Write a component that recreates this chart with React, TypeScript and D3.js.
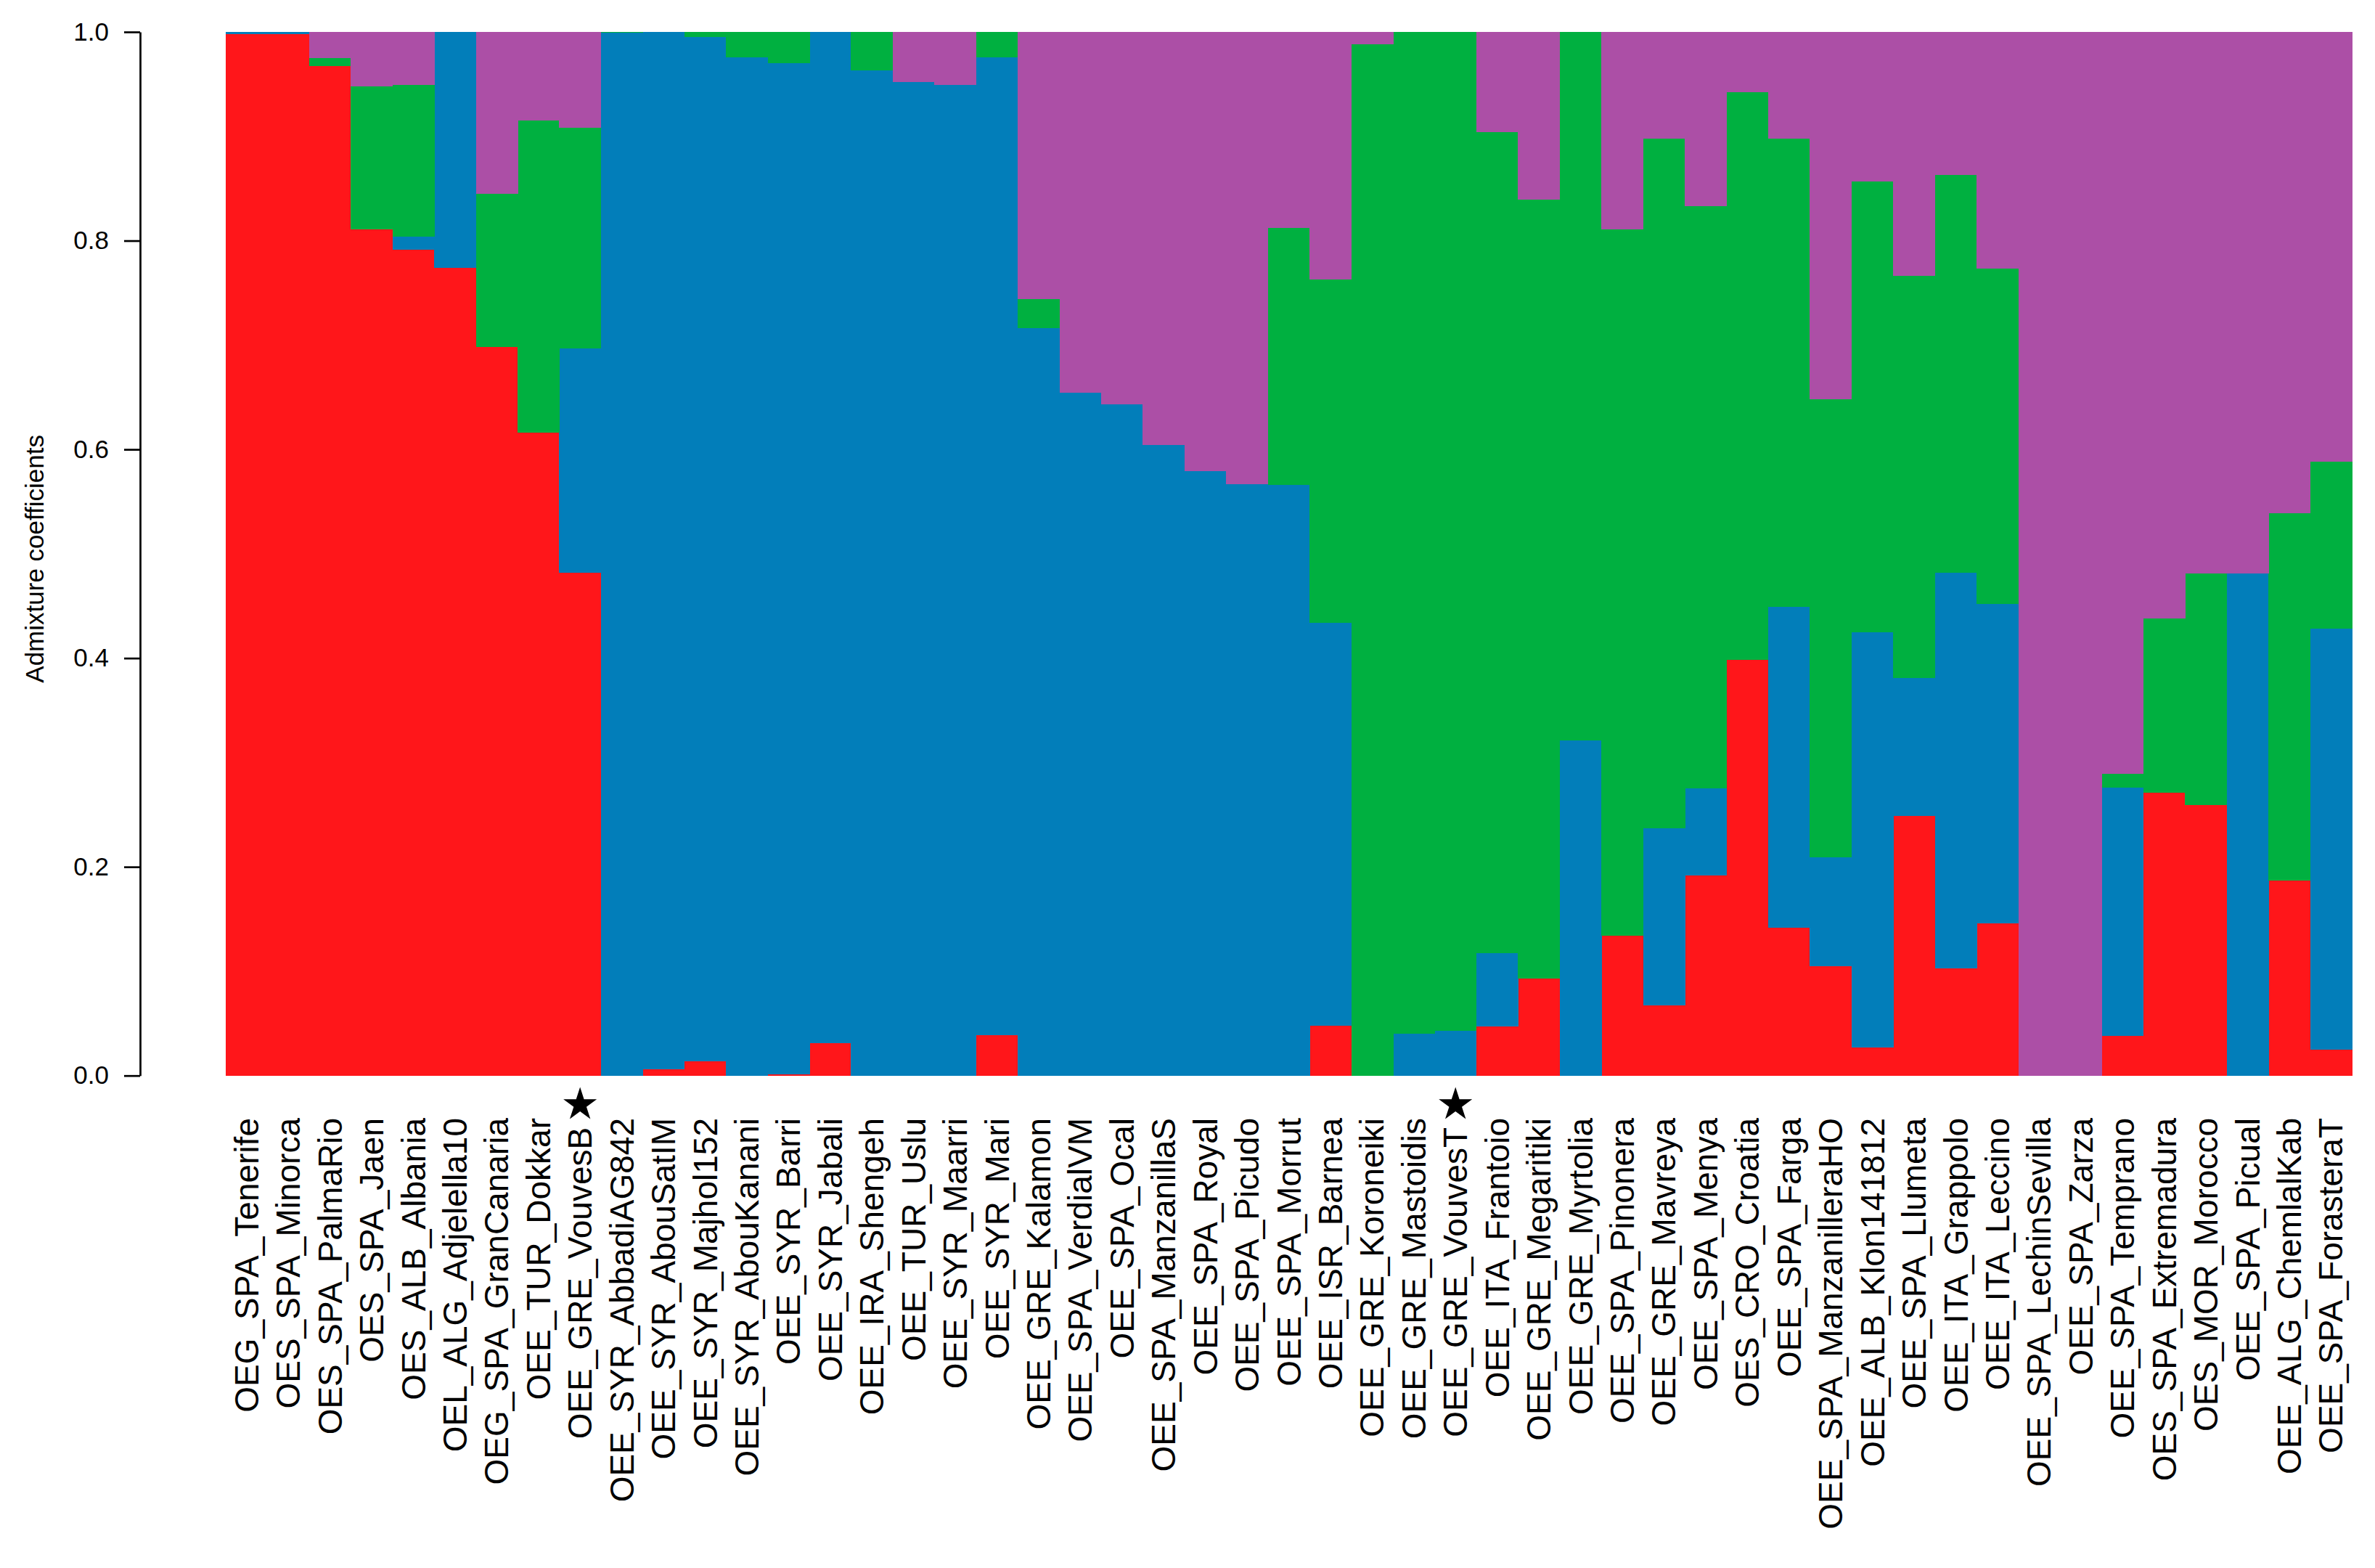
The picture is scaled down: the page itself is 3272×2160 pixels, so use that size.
import React, { useEffect, useRef } from 'react'
import * as d3 from 'd3'

const W = 3272
const H = 2160

// accessions, left to right
const accessions = [
  'OEG_SPA_Tenerife', 'OES_SPA_Minorca', 'OES_SPA_PalmaRio', 'OES_SPA_Jaen', 'OES_ALB_Albania',
  'OEL_ALG_Adjelella10', 'OEG_SPA_GranCanaria', 'OEE_TUR_Dokkar', 'OEE_GRE_VouvesB',
  'OEE_SYR_AbbadiAG842', 'OEE_SYR_AbouSatIM', 'OEE_SYR_Majhol152', 'OEE_SYR_AbouKanani',
  'OEE_SYR_Barri', 'OEE_SYR_Jabali', 'OEE_IRA_Shengeh', 'OEE_TUR_Uslu', 'OEE_SYR_Maarri',
  'OEE_SYR_Mari', 'OEE_GRE_Kalamon', 'OEE_SPA_VerdialVM', 'OEE_SPA_Ocal', 'OEE_SPA_ManzanillaS',
  'OEE_SPA_Royal', 'OEE_SPA_Picudo', 'OEE_SPA_Morrut', 'OEE_ISR_Barnea', 'OEE_GRE_Koroneiki',
  'OEE_GRE_Mastoidis', 'OEE_GRE_VouvesT', 'OEE_ITA_Frantoio', 'OEE_GRE_Megaritiki',
  'OEE_GRE_Myrtolia', 'OEE_SPA_Pinonera', 'OEE_GRE_Mavreya', 'OEE_SPA_Menya', 'OES_CRO_Croatia',
  'OEE_SPA_Farga', 'OEE_SPA_ManzanilleraHO', 'OEE_ALB_Klon141812', 'OEE_SPA_Llumeta',
  'OEE_ITA_Grappolo', 'OEE_ITA_Leccino', 'OEE_SPA_LechinSevilla', 'OEE_SPA_Zarza',
  'OEE_SPA_Temprano', 'OES_SPA_Extremadura', 'OES_MOR_Morocco', 'OEE_SPA_Picual',
  'OEE_ALG_ChemlalKab', 'OEE_SPA_ForasteraT'
]

// marked with a star
const starred = ['OEE_GRE_VouvesB', 'OEE_GRE_VouvesT']

// admixture coefficients per cluster (K = 4)
const clusterRed = [
  0.998, 0.998, 0.967, 0.811, 0.791, 0.774, 0.698, 0.616, 0.482,
  0, 0.006, 0.014, 0, 0.001, 0.031, 0, 0, 0, 0.039,
  0, 0, 0, 0, 0, 0, 0, 0.048, 0, 0, 0,
  0.047, 0.093, 0, 0.134, 0.067, 0.192, 0.398, 0.142, 0.105, 0.027, 0.249, 0.103, 0.146,
  0, 0, 0.038, 0.271, 0.259, 0, 0.187, 0.025
]
const clusterBlue = [
  0.002, 0.002, 0, 0, 0.013, 0.226, 0, 0, 0.215,
  0.999, 0.994, 0.981, 0.976, 0.969, 0.969, 0.963, 0.952, 0.949, 0.937,
  0.716, 0.654, 0.643, 0.604, 0.579, 0.567, 0.566, 0.386, 0, 0.040, 0.043,
  0.070, 0, 0.321, 0, 0.170, 0.083, 0, 0.307, 0.104, 0.398, 0.132, 0.379, 0.306,
  0, 0, 0.238, 0, 0, 0.481, 0, 0.403
]
const clusterGreen = [
  0, 0, 0.008, 0.137, 0.145, 0, 0.147, 0.299, 0.211,
  0.001, 0, 0.005, 0.024, 0.030, 0, 0.037, 0, 0, 0.024,
  0.028, 0, 0, 0, 0, 0, 0.246, 0.329, 0.988, 0.960, 0.957,
  0.787, 0.746, 0.679, 0.677, 0.661, 0.558, 0.544, 0.449, 0.439, 0.432, 0.385, 0.381, 0.321,
  0, 0, 0.013, 0.167, 0.222, 0, 0.352, 0.160
]
const clusterPurple = [
  0, 0, 0.025, 0.052, 0.051, 0, 0.155, 0.085, 0.092,
  0, 0, 0, 0, 0, 0, 0, 0.048, 0.051, 0,
  0.256, 0.346, 0.357, 0.396, 0.421, 0.433, 0.188, 0.237, 0.012, 0, 0,
  0.096, 0.161, 0, 0.189, 0.102, 0.167, 0.058, 0.102, 0.352, 0.143, 0.234, 0.137, 0.227,
  1, 1, 0.711, 0.562, 0.519, 0.519, 0.461, 0.412
]

const yTicks = [0, 0.2, 0.4, 0.6, 0.8, 1.0]

const clusters = ['red', 'blue', 'green', 'purple']
const colors = { red: '#ff161a', blue: '#027eba', green: '#00b040', purple: '#ac4fa6' }

const FONT = '"Liberation Sans", Arial, Helvetica, sans-serif'

const App = () => {
  const svgRef = useRef()

  useEffect(() => {
    const svg = d3.select(svgRef.current)
    svg.selectAll('*').remove()

    const rows = accessions.map((name, i) => ({
      name,
      red: clusterRed[i],
      blue: clusterBlue[i],
      green: clusterGreen[i],
      purple: clusterPurple[i]
    }))

    const x = d3.scaleBand().domain(accessions).range([311, 3240]).padding(0)
    const y = d3.scaleLinear().domain([0, 1]).range([1481.7, 44])

    const series = d3.stack().keys(clusters)(rows)

    svg
      .append('g')
      .selectAll('g')
      .data(series)
      .join('g')
      .attr('fill', s => colors[s.key])
      .selectAll('rect')
      .data(s => s)
      .join('rect')
      .attr('x', d => x(d.data.name))
      .attr('width', x.bandwidth() + 0.5)
      .attr('y', d => y(d[1]))
      .attr('height', d => Math.max(0, y(d[0]) - y(d[1])))
      .attr('shape-rendering', 'crispEdges')

    // y axis
    const yAxis = d3
      .axisLeft(y)
      .tickValues(yTicks)
      .tickFormat(d3.format('.1f'))
      .tickSize(22)
      .tickSizeOuter(0)
      .tickPadding(21)

    const ag = svg
      .append('g')
      .attr('transform', 'translate(193,0)')
      .call(yAxis)
    ag.selectAll('path, line').attr('stroke', '#000').attr('stroke-width', 2.7)
    ag.selectAll('text')
      .attr('font-family', FONT)
      .attr('font-size', 35)
      .attr('fill', '#000')

    svg
      .append('text')
      .attr('transform', `translate(60,${(y(0) + y(1)) / 2 + 7}) rotate(-90)`)
      .attr('text-anchor', 'middle')
      .attr('font-family', FONT)
      .attr('font-size', 35)
      .text('Admixture coefficients')

    // category labels
    svg
      .append('g')
      .selectAll('text')
      .data(accessions)
      .join('text')
      .attr('transform', d => `translate(${x(d) + x.bandwidth() / 2},1540) rotate(-90)`)
      .attr('text-anchor', 'end')
      .attr('dy', '0.35em')
      .attr('font-family', FONT)
      .attr('font-size', 46)
      .style('white-space', 'pre')
      .text(d => (starred.includes(d) ? d + '\u00a0' : d))

    const star = d3.symbol(d3.symbolStar, 24.2 * 24.2 / 0.8908130915292852)
    svg
      .append('g')
      .selectAll('path')
      .data(starred)
      .join('path')
      .attr('transform', d => `translate(${x(d) + x.bandwidth() / 2},1521.8)`)
      .attr('d', star())
      .attr('fill', '#000')
  }, [])

  return (
    <div style={{ position: 'absolute', left: 0, top: 0 }}>
      <svg ref={svgRef} width={W} height={H} style={{ display: 'block', background: '#fff' }} />
    </div>
  )
}

export default App
